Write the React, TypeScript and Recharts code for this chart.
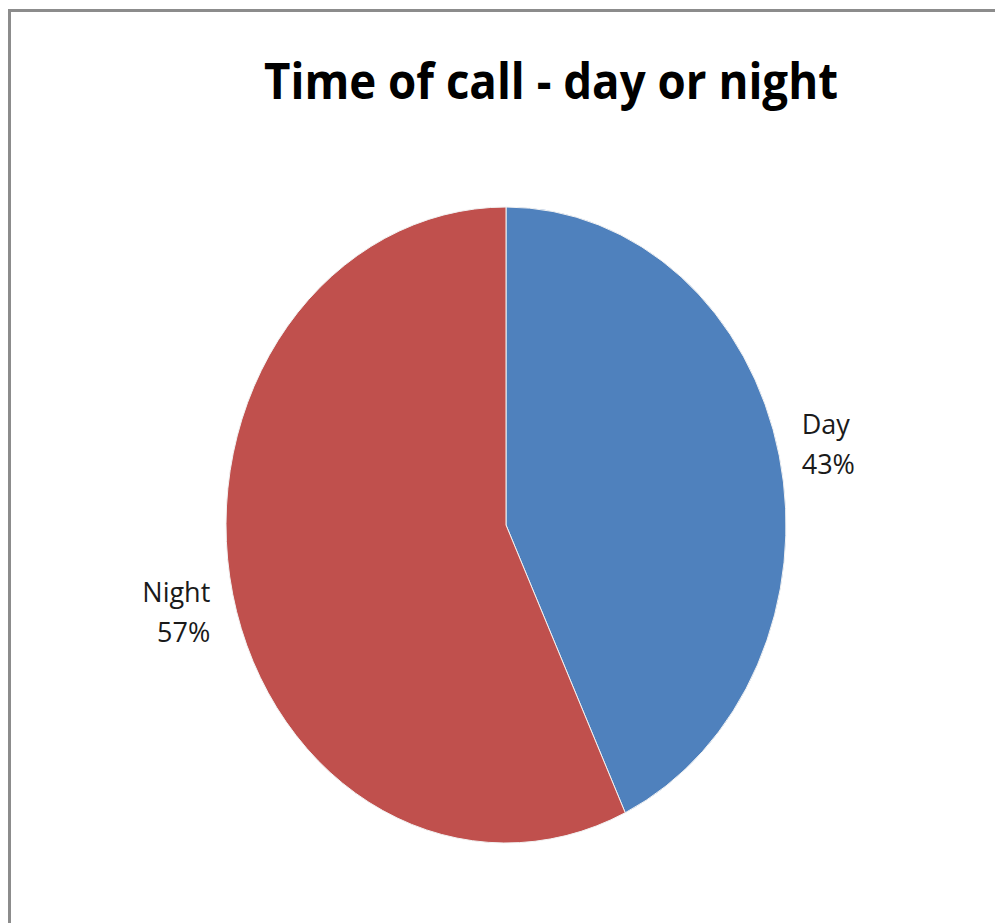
import React from 'react';
import { PieChart, Pie, Cell } from 'recharts';

const categories = ['Day', 'Night'];
const values = [43, 57];
const colors = ['#4F81BD', '#C0504D'];
const title = 'Time of call - day or night';

const data = categories.map((name, i) => ({ name, value: values[i] }));

const Y_SCALE = 318 / 280;
const RAD = Math.PI / 180;

const EllipseSector = (props: any) => {
  const { cx, cy, outerRadius, startAngle, endAngle, fill } = props;
  const rx = outerRadius;
  const ry = outerRadius * Y_SCALE;
  const pt = (a: number) => [cx + rx * Math.cos(a * RAD), cy - ry * Math.sin(a * RAD)];
  const [x1, y1] = pt(startAngle);
  const [x2, y2] = pt(endAngle);
  const delta = endAngle - startAngle;
  const large = Math.abs(delta) > 180 ? 1 : 0;
  const sweep = delta < 0 ? 1 : 0;
  const d = `M ${cx} ${cy} L ${x1} ${y1} A ${rx} ${ry} 0 ${large} ${sweep} ${x2} ${y2} Z`;
  return <path d={d} fill={fill} stroke="#f2f2f2" strokeWidth={1} />;
};

const renderLabel = (props: any) => {
  const { cx, cy, midAngle, outerRadius, name, percent } = props;
  const rx = outerRadius + 23;
  const ry = rx * 1.27;
  const c = Math.cos(midAngle * RAD);
  const x = cx + rx * c;
  const yc = cy - ry * Math.sin(midAngle * RAD);
  const anchor = c >= 0 ? 'start' : 'end';
  return (
    <text x={x} y={yc - 7} textAnchor={anchor} fill="#1a1a1a" fontFamily="'Open Sans', sans-serif" fontSize={27}>
      <tspan x={x}>{name}</tspan>
      <tspan x={x} dy={40}>{`${Math.round(percent * 100)}%`}</tspan>
    </text>
  );
};

export default function App() {
  return (
    <div style={{ position: 'fixed', left: 0, top: 0, width: 995, height: 923, overflow: 'hidden', background: '#fff' }}>
      <div
        style={{
          position: 'absolute',
          left: 8,
          top: 9,
          width: 1000,
          height: 1000,
          borderLeft: '3px solid #8c8c8c',
          borderTop: '3px solid #8c8c8c',
        }}
      />
      <svg width={995} height={130} style={{ position: 'absolute', left: 0, top: 0 }}>
        <text
          x={264}
          y={99}
          fontFamily="'Open Sans', sans-serif"
          fontWeight={700}
          fontSize={50}
          fill="#000"
          textLength={574}
          lengthAdjust="spacingAndGlyphs"
        >
          {title}
        </text>
      </svg>
      <div style={{ position: 'absolute', left: 0, top: 0 }}>
        <PieChart width={995} height={923}>
          <Pie
            data={data}
            dataKey="value"
            nameKey="name"
            cx={501}
            cy={520}
            outerRadius={280}
            startAngle={90}
            endAngle={-270}
            isAnimationActive={false}
            labelLine={false}
            label={renderLabel}
            shape={EllipseSector}
            inactiveShape={EllipseSector}
            activeShape={EllipseSector}
          >
            {data.map((d, i) => (
              <Cell key={d.name} fill={colors[i]} />
            ))}
          </Pie>
        </PieChart>
      </div>
    </div>
  );
}
